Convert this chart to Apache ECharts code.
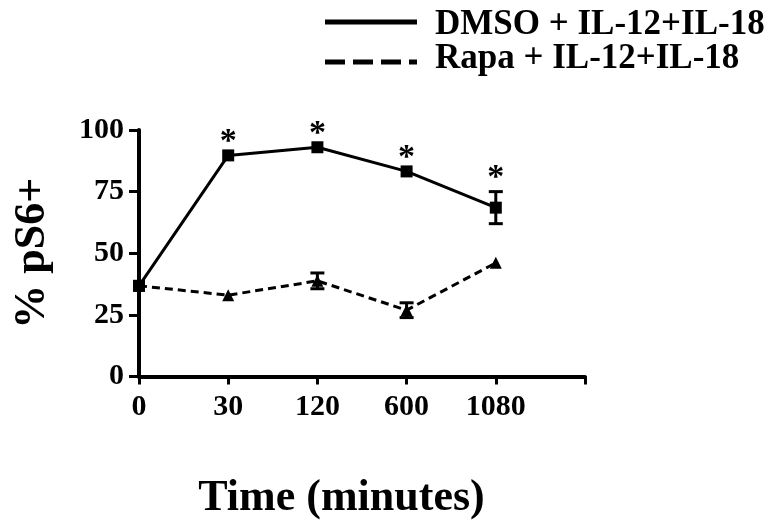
<!DOCTYPE html>
<html>
<head>
<meta charset="utf-8">
<script src="https://cdn.jsdelivr.net/npm/echarts@6/dist/echarts.min.js"></script>
<style>html,body{margin:0;padding:0;background:#fff}#c{width:770px;height:522px}</style>
</head>
<body>
<div id="c"></div>
<script>
const categories = ['0', '30', '120', '600', '1080', ''];
const yTicks = [0, 25, 50, 75, 100];
const dmso = [36.8, 89.7, 93.0, 83.2, 68.5];
const dmsoErr = [0, 0, 0, 0, 6.5];
const rapa = [36.8, 33.0, 38.8, 26.9, 46.1];
const rapaErr = [0, 0, 3.2, 3.0, 0];
const significant = [false, true, true, true, true];
const seriesNames = ['DMSO + IL-12+IL-18', 'Rapa + IL-12+IL-18'];

const FONT = 'Liberation Serif';
const chart = echarts.init(document.getElementById('c'));

function errData(vals, errs) {
  return vals.map((v, i) => [i, v, errs[i]]).filter(d => d[2] > 0);
}
function errRender(params, api) {
  const x = api.value(0), v = api.value(1), e = api.value(2);
  const top = api.coord([x, v + e]);
  const bot = api.coord([x, v - e]);
  const hw = 7;
  const st = { stroke: '#000', lineWidth: 3 };
  return {
    type: 'group',
    children: [
      { type: 'line', shape: { x1: top[0], y1: top[1], x2: bot[0], y2: bot[1] }, style: st },
      { type: 'line', shape: { x1: top[0] - hw, y1: top[1], x2: top[0] + hw, y2: top[1] }, style: st },
      { type: 'line', shape: { x1: bot[0] - hw, y1: bot[1], x2: bot[0] + hw, y2: bot[1] }, style: st }
    ]
  };
}
const starData = dmso.map((v, i) => [i, v + dmsoErr[i]]).filter((d, i) => significant[i]);

chart.setOption({
  animation: false,
  grid: { left: 139, right: 185, top: 130, bottom: 145.5 },
  xAxis: {
    type: 'category',
    data: categories,
    boundaryGap: false,
    name: 'Time (minutes)',
    nameLocation: 'middle',
    nameGap: 100,
    nameTextStyle: { fontFamily: FONT, fontWeight: 'bold', fontSize: 44, color: '#000', padding: [0, 41, 0, 0] },
    axisLine: { lineStyle: { color: '#000', width: 4 } },
    axisTick: { show: true, length: 8, lineStyle: { width: 3, color: '#000' }, interval: 0 },
    axisLabel: { fontFamily: FONT, fontWeight: 'bold', fontSize: 30, color: '#000', margin: 16, interval: 0 },
    splitLine: { show: false }
  },
  yAxis: {
    type: 'value',
    min: 0, max: 100, interval: 25,
    name: '% pS6+',
    nameLocation: 'middle',
    nameGap: 84,
    nameTextStyle: { fontFamily: FONT, fontWeight: 'bold', fontSize: 44, color: '#000' },
    axisLine: { show: true, lineStyle: { color: '#000', width: 4 } },
    axisTick: { show: true, length: 10, lineStyle: { width: 3, color: '#000' } },
    axisLabel: { fontFamily: FONT, fontWeight: 'bold', fontSize: 30, color: '#000', margin: 15,
      formatter: v => yTicks.includes(v) ? String(v) : '' },
    splitLine: { show: false }
  },
  series: [
    {
      name: seriesNames[1], type: 'line', data: rapa, z: 3,
      symbol: 'triangle', symbolSize: 12, showSymbol: true,
      lineStyle: { color: '#000', width: 3, type: [8, 5] },
      itemStyle: { color: '#000' }
    },
    {
      name: seriesNames[0], type: 'line', data: dmso, z: 4,
      symbol: 'rect', symbolSize: 12, showSymbol: true,
      lineStyle: { color: '#000', width: 3, type: 'solid' },
      itemStyle: { color: '#000' }
    },
    { type: 'custom', data: errData(dmso, dmsoErr), renderItem: errRender, z: 5 },
    { type: 'custom', data: errData(rapa, rapaErr), renderItem: errRender, z: 5 },
    {
      type: 'custom', data: starData, z: 6,
      renderItem: (params, api) => {
        const p = api.coord([api.value(0), api.value(1)]);
        return { type: 'text', x: p[0], y: p[1] + 4,
          style: { text: '*', fontFamily: FONT, fontWeight: 'bold', fontSize: 34, fill: '#000', align: 'center', verticalAlign: 'bottom' } };
      }
    }
  ],
  graphic: [
    { type: 'line', shape: { x1: 325, y1: 22, x2: 417, y2: 22 }, style: { stroke: '#000', lineWidth: 5 } },
    { type: 'line', shape: { x1: 325, y1: 62, x2: 417, y2: 62 }, style: { stroke: '#000', lineWidth: 5, lineDash: [20, 8] } },
    { type: 'text', x: 435, y: 25, style: { text: seriesNames[0], fontFamily: FONT, fontWeight: 'bold', fontSize: 35, fill: '#000', verticalAlign: 'middle' } },
    { type: 'text', x: 435, y: 59, style: { text: seriesNames[1], fontFamily: FONT, fontWeight: 'bold', fontSize: 35, fill: '#000', verticalAlign: 'middle' } }
  ]
});
</script>
</body>
</html>
